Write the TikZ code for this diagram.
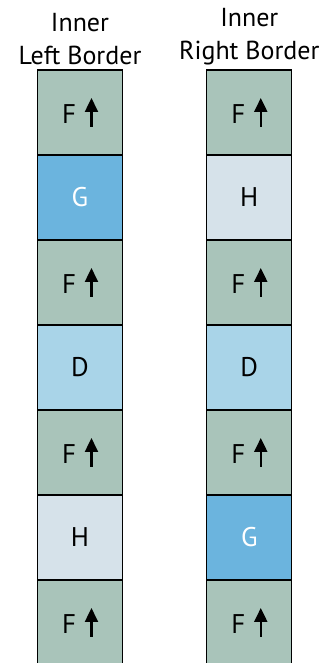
\documentclass[tikz,border=0pt]{standalone}
\usepackage{fontspec}
\setmainfont{PT Sans}
\usetikzlibrary{positioning,arrows.meta}

\definecolor{fgreen}{RGB}{169,196,186}
\definecolor{gblue}{RGB}{107,180,222}
\definecolor{hgray}{RGB}{214,226,234}
\definecolor{dblue}{RGB}{169,212,232}

\newcommand{\uparr}{\tikz[baseline=0pt]\draw[line width=2.2pt,-{Triangle[length=14pt,width=13pt]}] (0pt,-3pt) -- (0pt,26pt);}

\tikzset{
  cell/.style={draw=black,line width=1.2pt,minimum width=85pt,minimum height=85pt,inner sep=0pt,outer sep=0pt,font=\fontsize{27}{32}\selectfont},
  fcell/.style={cell,fill=fgreen},
  gcell/.style={cell,fill=gblue,text=white},
  hcell/.style={cell,fill=hgray},
  dcell/.style={cell,fill=dblue},
  coltitle/.style={align=center,inner sep=0pt,font=\fontsize{26}{33}\selectfont}
}

\begin{document}
\begin{tikzpicture}[x=1pt,y=1pt]

    \useasboundingbox (0,0) rectangle (336,663);
    \clip (0,0) rectangle (336,663);

    % --------------------------------------------------------- %
    % ------------- left column (inner left border)
    % --------------------------------------------------------- %
    \node[fcell] (left1) at (80,550.5) {F\hspace{9pt}\uparr};
    \node[gcell,below=0pt of left1] (left2) {G};
    \node[fcell,below=0pt of left2] (left3) {F\hspace{9pt}\uparr};
    \node[dcell,below=0pt of left3] (left4) {D};
    \node[fcell,below=0pt of left4] (left5) {F\hspace{9pt}\uparr};
    \node[hcell,below=0pt of left5] (left6) {H};
    \node[fcell,below=0pt of left6] (left7) {F\hspace{9pt}\uparr};
    % --- title
    \node[coltitle,above=5pt of left1] (lefttitle) {Inner\\Left Border};

    % --------------------------------------------------------- %
    % ------------- right column (inner right border)
    % --------------------------------------------------------- %
    \node[fcell] (right1) at (249.3,550.5) {F\hspace{9pt}\uparr};
    \node[hcell,below=0pt of right1] (right2) {H};
    \node[fcell,below=0pt of right2] (right3) {F\hspace{9pt}\uparr};
    \node[dcell,below=0pt of right3] (right4) {D};
    \node[fcell,below=0pt of right4] (right5) {F\hspace{9pt}\uparr};
    \node[gcell,below=0pt of right5] (right6) {G};
    \node[fcell,below=0pt of right6] (right7) {F\hspace{9pt}\uparr};
    % --- title
    \node[coltitle,above=5pt of right1] (righttitle) {Inner\\Right Border};

\end{tikzpicture}
\end{document}
